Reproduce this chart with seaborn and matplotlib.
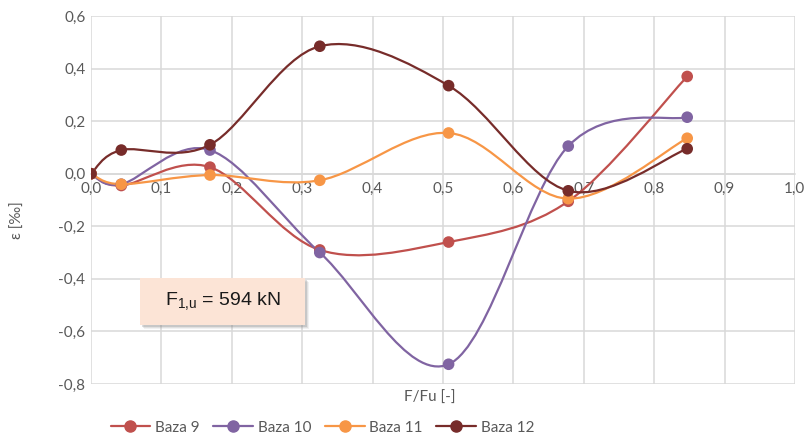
import numpy as np
import pandas as pd
import seaborn as sns
import matplotlib.pyplot as plt
from matplotlib.path import Path
from matplotlib.patches import PathPatch, Rectangle
from matplotlib.lines import Line2D
from matplotlib.ticker import FuncFormatter, MultipleLocator

# data
load_ratio = [0.0, 0.043, 0.169, 0.325, 0.508, 0.678, 0.847]
baza_9 = [0.0, -0.045, 0.025, -0.29, -0.26, -0.105, 0.37]
baza_10 = [0.0, -0.04, 0.09, -0.30, -0.725, 0.105, 0.215]
baza_11 = [0.0, -0.04, -0.005, -0.025, 0.155, -0.095, 0.135]
baza_12 = [0.0, 0.09, 0.11, 0.485, 0.335, -0.065, 0.095]
series_names = ['Baza 9', 'Baza 10', 'Baza 11', 'Baza 12']
colors = ['#C0504D', '#8064A2', '#F79646', '#772C2A']

df = pd.DataFrame({'F/Fu': load_ratio * 4,
                   'eps': baza_9 + baza_10 + baza_11 + baza_12,
                   'series': np.repeat(series_names, len(load_ratio))})

sns.set_theme(style='white')
plt.rcParams['font.family'] = ['Lato', 'DejaVu Sans']
plt.rcParams['mathtext.default'] = 'regular'


def smooth_path(x, y):
    """Excel-style smoothed line: cubic Bezier, Catmull-Rom control points"""
    pts = np.column_stack([x, y])
    verts = [pts[0]]
    codes = [Path.MOVETO]
    n = len(pts)
    for i in range(n - 1):
        p0 = pts[max(i - 1, 0)]
        p1 = pts[i]
        p2 = pts[i + 1]
        p3 = pts[min(i + 2, n - 1)]
        verts += [p1 + (p2 - p0) / 6, p2 - (p3 - p1) / 6, p2]
        codes += [Path.CURVE4] * 3
    return Path(verts, codes)


fig = plt.figure(figsize=(8.07, 4.41), dpi=100)
ax = fig.add_axes([0.1128, 0.1293, 0.8722, 0.8344])

for name, col in zip(series_names, colors):
    sub = df[df.series == name]
    ax.add_patch(PathPatch(smooth_path(sub['F/Fu'].values, sub['eps'].values),
                           facecolor='none', edgecolor=col, lw=1.6, zorder=3))
sns.scatterplot(data=df, x='F/Fu', y='eps', hue='series', palette=colors,
                s=70, edgecolor='none', legend=False, ax=ax, zorder=4)

ax.set_xlim(0, 1.0)
ax.set_ylim(-0.8, 0.6)
ax.xaxis.set_major_locator(MultipleLocator(0.1))
ax.yaxis.set_major_locator(MultipleLocator(0.2))
fmt = FuncFormatter(lambda v, p: f'{v:.1f}'.replace('.', ','))
ax.xaxis.set_major_formatter(fmt)
ax.yaxis.set_major_formatter(fmt)
ax.grid(True, color='#D9D9D9', lw=1.1)
for s in ['top', 'right', 'left']:
    ax.spines[s].set_visible(False)
ax.spines['bottom'].set_position(('data', 0))
ax.spines['bottom'].set_color('#D9D9D9')
ax.spines['bottom'].set_linewidth(1.1)
ax.tick_params(axis='both', colors='#595959', labelsize=11, length=0, pad=4)
ax.tick_params(axis='x', pad=6)
ax.set_xlabel('')
ax.set_ylabel('')

fig.text(0.533, 0.097, 'F/Fu [-]', ha='center', va='center', color='#595959', fontsize=11)
fig.text(0.022, 0.5, 'ε [‰]', ha='center', va='center', rotation=90, color='#595959', fontsize=11)

# label box with a soft shadow
for k, a in enumerate([0.10, 0.15, 0.25]):
    off = (4 - k) / 807
    fig.patches.append(Rectangle((0.1735 + off, 0.263 - off * 807 / 441), 0.2045, 0.1066,
                                 transform=fig.transFigure, fc='#7F7F7F', ec='none',
                                 alpha=a, zorder=5))
fig.patches.append(Rectangle((0.1735, 0.263), 0.2045, 0.1066, transform=fig.transFigure,
                             fc='#FCE4D6', ec='none', zorder=6))
fig.text(0.2757, 0.318, r'F$_{1{,}u}$ = 594 kN', ha='center', va='center', fontsize=14,
         family=['Liberation Sans', 'DejaVu Sans'], color='#1A1A1A', zorder=7)

handles = [Line2D([], [], color=c, lw=1.6, marker='o', markersize=8) for c in colors]
fig.legend(handles, series_names, loc='center left', bbox_to_anchor=(0.12, 0.03),
           ncol=4, frameon=False, fontsize=11, labelcolor='#595959',
           handlelength=2.6, columnspacing=0.9, handletextpad=0.3)

fig.savefig('out.png', dpi=100)
